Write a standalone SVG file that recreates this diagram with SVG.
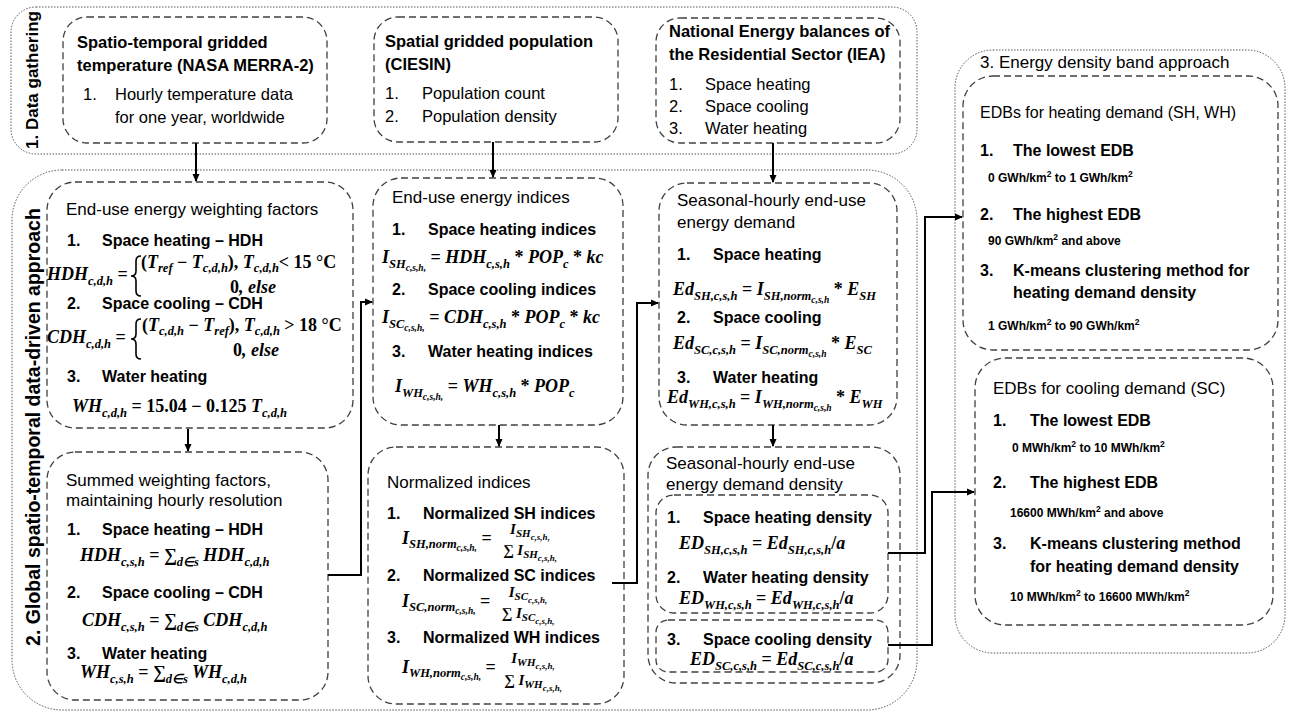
<svg xmlns="http://www.w3.org/2000/svg" width="1301" height="714" viewBox="0 0 1301 714">
<defs>
<style>
.outer{fill:none;stroke:#555;stroke-width:1;stroke-dasharray:1.5 1.5}
.box{fill:none;stroke:#404040;stroke-width:1.3;stroke-dasharray:7 4}
.t{font-family:'Liberation Sans',Arial,sans-serif;font-size:17px;fill:#000}
.tt{font-family:'Liberation Sans',Arial,sans-serif;font-size:16.5px;font-weight:bold;fill:#000}
.it{font-family:'Liberation Sans',Arial,sans-serif;font-size:16.5px;fill:#000}
.b{font-family:'Liberation Sans',Arial,sans-serif;font-size:16px;font-weight:bold;fill:#000}
.sm{font-family:'Liberation Sans',Arial,sans-serif;font-size:12px;font-weight:bold;fill:#000}
.sup{font-size:8.5px}
.lab{font-family:'Liberation Sans',Arial,sans-serif;font-size:17px;font-weight:bold;fill:#000}
.m{font-family:'Liberation Serif','Times New Roman',serif;font-size:18px;font-weight:bold;font-style:italic;fill:#000}
.f{font-size:15px}
.s{font-size:12.5px}
.ss{font-size:9.5px}
.fs{font-size:11px}
.fss{font-size:9px}
.n{font-style:normal}
.conn{fill:none;stroke:#000;stroke-width:2}
.brace{fill:none;stroke:#000;stroke-width:1.6}
</style>
<marker id="ah" markerWidth="8" markerHeight="8" refX="7" refY="4" orient="auto" markerUnits="userSpaceOnUse">
<path d="M0,0.5 L8,4 L0,7.5 Z" fill="#000"/>
</marker>
</defs>
<rect width="1301" height="714" fill="#fff"/>

<g id="section1">
<rect class="outer" x="11" y="7" width="906" height="147" rx="25"/>
<text class="lab" transform="translate(38,80) rotate(-90)" text-anchor="middle">1. Data gathering</text>
</g>
<g id="section2">
<rect class="outer" x="12" y="170" width="905" height="540" rx="50"/>
<text class="lab" style="font-size:19.5px" transform="translate(40,427) rotate(-90)" text-anchor="middle">2. Global spatio-temporal data-driven approach</text>
</g>
<g id="section3">
<rect class="outer" x="955" y="50" width="330" height="603" rx="38"/>
<text class="t" x="980" y="68">3. Energy density band approach</text>
</g>

<g id="A1">
<rect class="box" x="63" y="17" width="264" height="126" rx="24"/>
<text class="tt" x="77" y="48">Spatio-temporal gridded</text>
<text class="tt" x="77" y="71">temperature (NASA MERRA-2)</text>
<text class="it" x="83" y="100">1.</text>
<text class="it" x="115" y="100">Hourly temperature data</text>
<text class="it" x="115" y="123">for one year, worldwide</text>
</g>
<g id="A2">
<rect class="box" x="374" y="17" width="244" height="125" rx="24"/>
<text class="tt" x="385" y="47">Spatial gridded population</text>
<text class="tt" x="385" y="70">(CIESIN)</text>
<text class="it" x="385" y="99">1.</text>
<text class="it" x="422" y="99">Population count</text>
<text class="it" x="385" y="122">2.</text>
<text class="it" x="422" y="122">Population density</text>
</g>
<g id="A3">
<rect class="box" x="656" y="18" width="244" height="125" rx="24"/>
<text class="tt" x="669" y="37">National Energy balances of</text>
<text class="tt" x="669" y="60">the Residential  Sector (IEA)</text>
<text class="it" x="669" y="90">1.</text>
<text class="it" x="705" y="90">Space heating</text>
<text class="it" x="669" y="112">2.</text>
<text class="it" x="705" y="112">Space cooling</text>
<text class="it" x="669" y="134">3.</text>
<text class="it" x="705" y="134">Water heating</text>
</g>

<g id="B1">
<rect class="box" x="47" y="182" width="306" height="246" rx="28"/>
<text class="t" x="66" y="215">End-use energy weighting factors</text>
<text class="b" x="67" y="246">1.</text>
<text class="b" x="102" y="246">Space heating – HDH</text>
<text class="m" x="47" y="280">HDH<tspan class="s" dy="5">c,d,h</tspan><tspan class="n" dy="-5"> =</tspan></text>
<path class="brace" d="M141,256 Q136,256 136,261 L136,271 Q136,276 131,276 Q136,276 136,281 L136,291 Q136,296 141,296"/>
<text class="m" x="141" y="268"><tspan class="n">(</tspan>T<tspan class="s" dy="4">ref</tspan><tspan class="n" dy="-4"> − </tspan>T<tspan class="s" dy="4">c,d,h</tspan><tspan class="n" dy="-4">), </tspan>T<tspan class="s" dy="4">c,d,h</tspan><tspan class="n" dy="-4">&lt; 15 °C</tspan></text>
<text class="m" x="230" y="293"><tspan class="n">0</tspan>, else</text>
<text class="b" x="67" y="309">2.</text>
<text class="b" x="102" y="309">Space cooling – CDH</text>
<text class="m" x="47" y="343">CDH<tspan class="s" dy="5">c,d,h</tspan><tspan class="n" dy="-5"> =</tspan></text>
<path class="brace" d="M141,319 Q136,319 136,324 L136,334 Q136,339 131,339 Q136,339 136,344 L136,354 Q136,359 141,359"/>
<text class="m" x="142" y="331"><tspan class="n">(</tspan>T<tspan class="s" dy="4">c,d,h</tspan><tspan class="n" dy="-4"> − </tspan>T<tspan class="s" dy="4">ref</tspan><tspan class="n" dy="-4">), </tspan>T<tspan class="s" dy="4">c,d,h</tspan><tspan class="n" dy="-4"> &gt; 18 °C</tspan></text>
<text class="m" x="233" y="356"><tspan class="n">0</tspan>, else</text>
<text class="b" x="67" y="382">3.</text>
<text class="b" x="102" y="382">Water heating</text>
<text class="m" x="72" y="412">WH<tspan class="s" dy="5">c,d,h</tspan><tspan class="n" dy="-5"> = 15.04 − 0.125 </tspan>T<tspan class="s" dy="5">c,d,h</tspan></text>
</g>

<g id="B2">
<rect class="box" x="47" y="452" width="281" height="248" rx="28"/>
<text class="t" x="66" y="486">Summed weighting factors,</text>
<text class="t" x="66" y="506">maintaining hourly resolution</text>
<text class="b" x="67" y="535">1.</text>
<text class="b" x="102" y="535">Space heating – HDH</text>
<text class="m" x="80" y="561">HDH<tspan class="s" dy="5">c,s,h</tspan><tspan class="n" dy="-5"> = ∑</tspan><tspan class="s" dy="5">d∈s</tspan><tspan dy="-5"> HDH</tspan><tspan class="s" dy="5">c,d,h</tspan></text>
<text class="b" x="67" y="598">2.</text>
<text class="b" x="102" y="598">Space cooling – CDH</text>
<text class="m" x="82" y="626">CDH<tspan class="s" dy="5">c,s,h</tspan><tspan class="n" dy="-5"> = ∑</tspan><tspan class="s" dy="5">d∈s</tspan><tspan dy="-5"> CDH</tspan><tspan class="s" dy="5">c,d,h</tspan></text>
<text class="b" x="67" y="659">3.</text>
<text class="b" x="102" y="659">Water heating</text>
<text class="m" x="80" y="678">WH<tspan class="s" dy="5">c,s,h</tspan><tspan class="n" dy="-5"> = ∑</tspan><tspan class="s" dy="5">d∈s</tspan><tspan dy="-5"> WH</tspan><tspan class="s" dy="5">c,d,h</tspan></text>
</g>

<g id="B3">
<rect class="box" x="373" y="178" width="250" height="247" rx="28"/>
<text class="t" x="392" y="203">End-use energy indices</text>
<text class="b" x="392" y="235">1.</text>
<text class="b" x="428" y="235">Space heating indices</text>
<text class="m" x="382" y="263">I<tspan class="s" dy="5">SH</tspan><tspan class="ss" dy="3">c,s,h,</tspan><tspan class="n" dy="-8"> = </tspan>HDH<tspan class="s" dy="5">c,s,h</tspan><tspan class="n" dy="-5">  *  </tspan>POP<tspan class="s" dy="5">c</tspan><tspan class="n" dy="-5">  * </tspan>kc</text>
<text class="b" x="392" y="295">2.</text>
<text class="b" x="428" y="295">Space cooling indices</text>
<text class="m" x="382" y="323">I<tspan class="s" dy="5">SC</tspan><tspan class="ss" dy="3">c,s,h,</tspan><tspan class="n" dy="-8"> = </tspan>CDH<tspan class="s" dy="5">c,s,h</tspan><tspan class="n" dy="-5">  *  </tspan>POP<tspan class="s" dy="5">c</tspan><tspan class="n" dy="-5">  * </tspan>kc</text>
<text class="b" x="392" y="357">3.</text>
<text class="b" x="428" y="357">Water heating indices</text>
<text class="m" x="395" y="392">I<tspan class="s" dy="5">WH</tspan><tspan class="ss" dy="3">c,s,h,</tspan><tspan class="n" dy="-8"> = </tspan>WH<tspan class="s" dy="5">c,s,h</tspan><tspan class="n" dy="-5">  *  </tspan>POP<tspan class="s" dy="5">c</tspan></text>
</g>

<g id="B4">
<rect class="box" x="368" y="447" width="256" height="257" rx="28"/>
<text class="t" x="387" y="488">Normalized indices</text>
<text class="b" x="387" y="519">1.</text>
<text class="b" x="423" y="519">Normalized SH indices</text>
<text class="m" x="402" y="544">I<tspan class="s" dy="4">SH,norm</tspan><tspan class="ss" dy="3">c,s,h,</tspan><tspan class="n" dy="-7"> =</tspan></text>
<text class="m f" x="530" y="534" text-anchor="middle">I<tspan class="fs" dy="3">SH</tspan><tspan class="fss" dy="3">c,s,h,</tspan></text>
<text class="m f" x="530" y="555" text-anchor="middle"><tspan class="n">∑ </tspan>I<tspan class="fs" dy="3">SH</tspan><tspan class="fss" dy="3">c,s,h,</tspan></text>
<text class="b" x="387" y="581">2.</text>
<text class="b" x="423" y="581">Normalized SC indices</text>
<text class="m" x="402" y="607">I<tspan class="s" dy="4">SC,norm</tspan><tspan class="ss" dy="3">c,s,h,</tspan><tspan class="n" dy="-7"> =</tspan></text>
<text class="m f" x="528" y="597" text-anchor="middle">I<tspan class="fs" dy="3">SC</tspan><tspan class="fss" dy="3">c,s,h,</tspan></text>
<text class="m f" x="528" y="618" text-anchor="middle"><tspan class="n">∑ </tspan>I<tspan class="fs" dy="3">SC</tspan><tspan class="fss" dy="3">c,s,h,</tspan></text>
<text class="b" x="387" y="643">3.</text>
<text class="b" x="423" y="643">Normalized WH indices</text>
<text class="m" x="402" y="673">I<tspan class="s" dy="4">WH,norm</tspan><tspan class="ss" dy="3">c,s,h,</tspan><tspan class="n" dy="-7"> =</tspan></text>
<text class="m f" x="533" y="663" text-anchor="middle">I<tspan class="fs" dy="3">WH</tspan><tspan class="fss" dy="3">c,s,h,</tspan></text>
<text class="m f" x="533" y="685" text-anchor="middle"><tspan class="n">∑ </tspan>I<tspan class="fs" dy="3">WH</tspan><tspan class="fss" dy="3">c,s,h,</tspan></text>
</g>

<g id="B5">
<rect class="box" x="659" y="183" width="238" height="242" rx="28"/>
<text class="t" x="677" y="206">Seasonal-hourly end-use</text>
<text class="t" x="677" y="228">energy demand</text>
<text class="b" x="677" y="260">1.</text>
<text class="b" x="713" y="260">Space heating</text>
<text class="m" x="673" y="295">Ed<tspan class="s" dy="5">SH,c,s,h</tspan><tspan class="n" dy="-5"> = </tspan>I<tspan class="s" dy="5">SH,norm</tspan><tspan class="ss" dy="3">c,s,h</tspan><tspan class="n" dy="-8"> * </tspan>E<tspan class="s" dy="5">SH</tspan></text>
<text class="b" x="677" y="323">2.</text>
<text class="b" x="713" y="323">Space cooling</text>
<text class="m" x="673" y="349">Ed<tspan class="s" dy="5">SC,c,s,h</tspan><tspan class="n" dy="-5"> = </tspan>I<tspan class="s" dy="5">SC,norm</tspan><tspan class="ss" dy="3">c,s,h</tspan><tspan class="n" dy="-8"> * </tspan>E<tspan class="s" dy="5">SC</tspan></text>
<text class="b" x="677" y="383">3.</text>
<text class="b" x="713" y="383">Water heating</text>
<text class="m" x="667" y="403">Ed<tspan class="s" dy="5">WH,c,s,h</tspan><tspan class="n" dy="-5"> = </tspan>I<tspan class="s" dy="5">WH,norm</tspan><tspan class="ss" dy="3">c,s,h</tspan><tspan class="n" dy="-8"> * </tspan>E<tspan class="s" dy="5">WH</tspan></text>
</g>

<g id="B6">
<rect class="box" x="648" y="447" width="252" height="236" rx="28"/>
<text class="t" x="666" y="469">Seasonal-hourly end-use</text>
<text class="t" x="666" y="490">energy demand density</text>
<rect class="box" x="656" y="495" width="232" height="118" rx="18"/>
<text class="b" x="667" y="523">1.</text>
<text class="b" x="703" y="523">Space heating density</text>
<text class="m" x="679" y="549">ED<tspan class="s" dy="5">SH,c,s,h</tspan><tspan class="n" dy="-5"> = </tspan>Ed<tspan class="s" dy="5">SH,c,s,h</tspan><tspan class="n" dy="-5">/</tspan>a</text>
<text class="b" x="667" y="583">2.</text>
<text class="b" x="703" y="583">Water heating density</text>
<text class="m" x="679" y="604">ED<tspan class="s" dy="5">WH,c,s,h</tspan><tspan class="n" dy="-5"> = </tspan>Ed<tspan class="s" dy="5">WH,c,s,h</tspan><tspan class="n" dy="-5">/</tspan>a</text>
<rect class="box" x="656" y="620" width="232" height="52" rx="12"/>
<text class="b" x="667" y="645">3.</text>
<text class="b" x="703" y="645">Space cooling density</text>
<text class="m" x="690" y="665">ED<tspan class="s" dy="5">SC,c,s,h</tspan><tspan class="n" dy="-5"> = </tspan>Ed<tspan class="s" dy="5">SC,c,s,h</tspan><tspan class="n" dy="-5">/</tspan>a</text>
</g>

<g id="C1">
<rect class="box" x="963" y="76" width="315" height="274" rx="30"/>
<text class="t" x="980" y="118" style="font-size:16px">EDBs for heating demand (SH, WH)</text>
<text class="b" x="980" y="156">1.</text>
<text class="b" x="1013" y="156">The lowest EDB</text>
<text class="sm" x="988" y="182">0 GWh/km<tspan class="sup" dy="-5">2</tspan><tspan dy="5"> to 1 GWh/km</tspan><tspan class="sup" dy="-5">2</tspan></text>
<text class="b" x="980" y="220">2.</text>
<text class="b" x="1013" y="220">The highest EDB</text>
<text class="sm" x="988" y="245">90 GWh/km<tspan class="sup" dy="-5">2</tspan><tspan dy="5"> and above</tspan></text>
<text class="b" x="980" y="276">3.</text>
<text class="b" x="1013" y="276">K-means clustering method for</text>
<text class="b" x="1013" y="298">heating demand density</text>
<text class="sm" x="988" y="330">1 GWh/km<tspan class="sup" dy="-5">2</tspan><tspan dy="5"> to 90 GWh/km</tspan><tspan class="sup" dy="-5">2</tspan></text>
</g>
<g id="C2">
<rect class="box" x="975" y="358" width="298" height="267" rx="30"/>
<text class="t" x="993" y="394">EDBs for cooling demand (SC)</text>
<text class="b" x="993" y="426">1.</text>
<text class="b" x="1030" y="426">The lowest EDB</text>
<text class="sm" x="1012" y="452">0 MWh/km<tspan class="sup" dy="-5">2</tspan><tspan dy="5"> to 10 MWh/km</tspan><tspan class="sup" dy="-5">2</tspan></text>
<text class="b" x="993" y="488">2.</text>
<text class="b" x="1030" y="488">The highest EDB</text>
<text class="sm" x="1010" y="517">16600 MWh/km<tspan class="sup" dy="-5">2</tspan><tspan dy="5"> and above</tspan></text>
<text class="b" x="993" y="549">3.</text>
<text class="b" x="1030" y="549">K-means clustering method</text>
<text class="b" x="1030" y="572">for heating demand density</text>
<text class="sm" x="1010" y="601">10 MWh/km<tspan class="sup" dy="-5">2</tspan><tspan dy="5"> to 16600 MWh/km</tspan><tspan class="sup" dy="-5">2</tspan></text>
</g>

<g id="connectors">
<path class="conn" d="M196,143 L196,181" marker-end="url(#ah)"/>
<path class="conn" d="M493,142 L493,177" marker-end="url(#ah)"/>
<path class="conn" d="M773,143 L773,182" marker-end="url(#ah)"/>
<path class="conn" d="M188,429 L188,451" marker-end="url(#ah)"/>
<path class="conn" d="M328,575 L361,575 L361,302 L372,302" marker-end="url(#ah)"/>
<path class="conn" d="M499,425 L499,446" marker-end="url(#ah)"/>
<path class="conn" d="M612,583 L637,583 L637,303 L658,303" marker-end="url(#ah)"/>
<path class="conn" d="M773,425 L773,446" marker-end="url(#ah)"/>
<path class="conn" d="M888,553 L925,553 L925,217 L962,217" marker-end="url(#ah)"/>
<path class="conn" d="M888,645 L932,645 L932,492 L974,492" marker-end="url(#ah)"/>
</g>
</svg>
